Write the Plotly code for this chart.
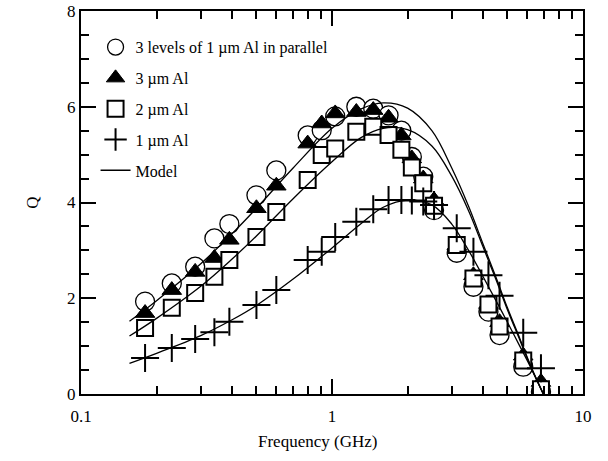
import plotly.graph_objects as go

freq = [0.18, 0.23, 0.285, 0.34, 0.39, 0.5, 0.6, 0.8, 0.91, 1.03, 1.25, 1.46, 1.68,
        1.89, 2.08, 2.31, 2.55, 3.14, 3.66, 4.2, 4.65, 5.78, 6.8]
q_3lev = [1.93, 2.31, 2.66, 3.25, 3.55, 4.15, 4.67, 5.40, 5.51, 5.80, 6.00, 5.96, 5.82,
          5.50, 4.95, 4.54, 3.84, 2.95, 2.24, 1.72, 1.23, 0.57, 0.05]
q_3um = [1.69, 2.17, 2.55, 2.84, 3.22, 3.88, 4.35, 5.23, 5.65, 5.86, 5.89, 5.93, 5.77,
         5.40, 4.92, 4.50, 4.05, 3.10, 2.48, 1.88, 1.50, 0.80, 0.25]
q_2um = [1.38, 1.80, 2.11, 2.45, 2.80, 3.28, 3.80, 4.47, 4.99, 5.13, 5.48, 5.58, 5.41,
         5.10, 4.73, 4.40, 3.93, 3.11, 2.41, 1.87, 1.41, 0.70, 0.10]
q_1um = [0.75, 0.96, 1.15, 1.29, 1.51, 1.86, 2.17, 2.80, 2.97, 3.28, 3.60, 3.86, 4.05,
         4.05, 4.04, 4.02, 3.95, 3.46, 2.97, 2.48, 2.05, 1.28, 0.54]

model_f = [0.156, 0.2, 0.3, 0.4, 0.5, 0.7, 1.0, 1.3, 1.6, 2.0, 2.5, 3.0, 3.5, 4.0,
           4.5, 5.0, 5.6, 6.2, 6.95]
model_3um = [1.52, 1.95, 2.72, 3.35, 3.88, 4.72, 5.55, 5.95, 6.08, 5.97, 5.50, 4.72,
             3.92, 3.13, 2.44, 1.80, 1.16, 0.58, 0.0]
model_2um = [1.21, 1.58, 2.25, 2.82, 3.30, 4.08, 4.85, 5.35, 5.55, 5.52, 5.18, 4.55,
             3.83, 3.07, 2.39, 1.76, 1.13, 0.56, 0.0]
model_1um = [0.64, 0.85, 1.22, 1.55, 1.85, 2.40, 3.05, 3.55, 3.90, 4.05, 3.95, 3.55,
             3.00, 2.45, 1.95, 1.50, 1.00, 0.55, 0.0]

minor_x = [0.2, 0.3, 0.4, 0.5, 0.6, 0.7, 0.8, 0.9, 2, 3, 4, 5, 6, 7, 8, 9]

fig = go.Figure()

fig.add_trace(go.Scatter(
    x=freq, y=q_3lev, mode="markers", name="3 levels of 1 \u00b5m Al in parallel",
    legendgroup="a", legendrank=1,
    marker=dict(symbol="circle", size=19, color="white",
                line=dict(color="black", width=1.3))))
fig.add_trace(go.Scatter(
    x=freq, y=q_3um, mode="markers", name="3 \u00b5m Al",
    legendgroup="b", legendrank=2,
    marker=dict(symbol="triangle-up", size=17, color="black",
                line=dict(color="black", width=1))))
fig.add_trace(go.Scatter(
    x=freq, y=q_2um, mode="markers", name="2 \u00b5m Al",
    legendgroup="c", legendrank=3,
    marker=dict(symbol="square", size=16, color="white",
                line=dict(color="black", width=2))))
fig.add_trace(go.Scatter(
    x=freq, y=q_1um, mode="markers", name="1 \u00b5m Al",
    legendgroup="d", legendrank=4,
    marker=dict(symbol="cross-thin", size=20, color="black",
                line=dict(color="black", width=2))))

for qm, show in [(model_3um, True), (model_2um, False), (model_1um, False)]:
    fig.add_trace(go.Scatter(
        x=model_f, y=qm, mode="lines", name="Model", showlegend=show,
        legendgroup="e", legendrank=5,
        line=dict(color="black", width=1.3, shape="spline", smoothing=1.0)))

fam = "Liberation Serif"
font = dict(family=fam, size=17, color="black")

fig.update_layout(
    width=608, height=461,
    margin=dict(l=81, r=25, t=11, b=67),
    paper_bgcolor="white", plot_bgcolor="white",
    font=font,
    showlegend=True,
    legend=dict(x=0.029, y=0.95, xanchor="left", yanchor="top",
                bgcolor="rgba(0,0,0,0)", font=dict(family=fam, size=16, color="black"),
                tracegroupgap=7, itemsizing="trace"),
    xaxis=dict(type="log", range=[-1, 1], automargin=False,
               tickvals=[0.1, 1, 10], ticktext=["0.1", "1", "10"],
               tickfont=font, ticklabelstandoff=6,
               ticks="inside", ticklen=15, tickwidth=1.5, tickcolor="black",
               minor=dict(tickvals=minor_x, ticks="inside", ticklen=8,
                          tickwidth=1.5, tickcolor="black", showgrid=False),
               showline=True, linewidth=2, linecolor="black", mirror="ticks",
               showgrid=False, zeroline=False),
    yaxis=dict(range=[0, 8], tickvals=[0, 2, 4, 6, 8], automargin=False,
               tickfont=font,
               ticks="inside", ticklen=15, tickwidth=1.5, tickcolor="black",
               minor=dict(dtick=0.5, ticks="inside", ticklen=8,
                          tickwidth=1.5, tickcolor="black", showgrid=False),
               showline=True, linewidth=2, linecolor="black", mirror="ticks",
               showgrid=False, zeroline=False,
               title=dict(text="Q", font=font, standoff=24)),
    annotations=[dict(text="Frequency (GHz)", xref="paper", yref="paper",
                      x=0.472, y=-0.123, xanchor="center", yanchor="middle",
                      showarrow=False, font=font)],
)

fig.write_html("out.html", config={"displayModeBar": False},
               post_script="document.body.style.margin='0';document.body.style.overflow='hidden';")
